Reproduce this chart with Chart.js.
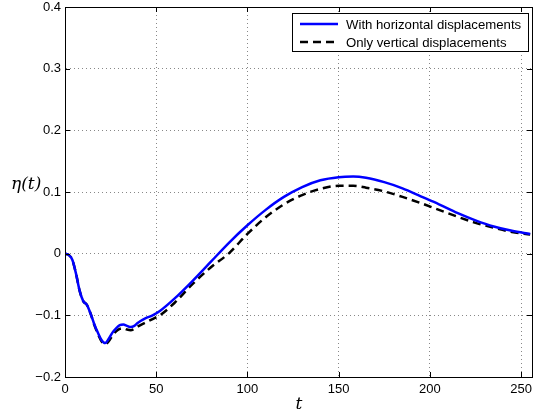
<!DOCTYPE html>
<html>
<head>
<meta charset="utf-8">
<script src="https://cdn.jsdelivr.net/npm/chart.js@4.4.1/dist/chart.umd.min.js"></script>
<style>
  body { margin: 0; background: #fff; }
  #box { width: 542px; height: 418px; }
</style>
</head>
<body>
<div id="box"><canvas id="myChart"></canvas></div>
<script>
'use strict';
let tValues = [0, 2, 4, 6, 8, 10, 12, 14, 16, 18, 20, 22, 24, 26, 28, 30, 32, 34, 36, 38, 40, 44, 48, 52, 60, 70, 80, 90, 100, 110, 120, 130, 140, 150, 158, 165, 175, 185, 195, 205, 215, 225, 235, 245, 255];
let withHorizontal = [0, -0.002, -0.010, -0.032, -0.060, -0.077, -0.083, -0.097, -0.114, -0.128, -0.140, -0.145, -0.138, -0.128, -0.121, -0.116, -0.115, -0.117, -0.119, -0.117, -0.112, -0.105, -0.100, -0.093, -0.073, -0.044, -0.013, 0.018, 0.046, 0.071, 0.092, 0.108, 0.119, 0.124, 0.125, 0.123, 0.116, 0.106, 0.093, 0.080, 0.066, 0.054, 0.044, 0.037, 0.032];
let onlyVertical = [0, -0.002, -0.010, -0.032, -0.060, -0.077, -0.083, -0.097, -0.115, -0.130, -0.142, -0.147, -0.142, -0.133, -0.126, -0.122, -0.121, -0.123, -0.124, -0.122, -0.118, -0.112, -0.106, -0.100, -0.080, -0.049, -0.022, 0.001, 0.032, 0.059, 0.080, 0.095, 0.105, 0.110, 0.110, 0.107, 0.101, 0.092, 0.082, 0.071, 0.060, 0.050, 0.042, 0.035, 0.031];
let seriesNames = ['With horizontal displacements', 'Only vertical displacements'];
let xTicks = [0, 50, 100, 150, 200, 250];
let yTicks = [-0.2, -0.1, 0, 0.1, 0.2, 0.3, 0.4];

function toPoints(xs, ys) {
    let pts = [];
    for (let i = 0; i < xs.length; i++) {
        pts.push({ x: xs[i], y: ys[i] });
    }
    return pts;
}

function fmt(v) {
    let r = Math.round(v * 10) / 10;
    if (r === 0) return '0';
    return r < 0 ? '\u2212' + Math.abs(r) : String(r);
}

// box, inner tick marks, legend and axis labels in MATLAB style
let matlabFrame = {
    id: 'matlabFrame',
    afterDraw(chart) {
        let ctx = chart.ctx;
        let a = chart.chartArea;
        let xs = chart.scales.x;
        let ys = chart.scales.y;
        ctx.save();
        ctx.strokeStyle = '#000';
        ctx.lineWidth = 1;
        ctx.setLineDash([]);
        ctx.beginPath();
        xTicks.forEach(function (v) {
            let px = Math.round(xs.getPixelForValue(v)) + 0.5;
            ctx.moveTo(px, a.bottom); ctx.lineTo(px, a.bottom - 5);
            ctx.moveTo(px, a.top); ctx.lineTo(px, a.top + 5);
        });
        yTicks.forEach(function (v) {
            let py = Math.round(ys.getPixelForValue(v)) + 0.5;
            ctx.moveTo(a.left, py); ctx.lineTo(a.left + 5, py);
            ctx.moveTo(a.right, py); ctx.lineTo(a.right - 5, py);
        });
        ctx.stroke();
        ctx.strokeRect(Math.round(a.left) + 0.5, Math.round(a.top) + 0.5, Math.round(a.right - a.left), Math.round(a.bottom - a.top));

        // legend
        let lx = 292, ly = 13, lw = 236, lh = 38;
        ctx.fillStyle = '#fff';
        ctx.fillRect(lx, ly, lw, lh);
        ctx.strokeRect(lx + 0.5, ly + 0.5, lw, lh);
        chart.data.datasets.forEach(function (ds, i) {
            let rowY = ly + 11 + i * 18;
            ctx.strokeStyle = ds.borderColor;
            ctx.lineWidth = ds.borderWidth;
            ctx.setLineDash(ds.borderDash || []);
            ctx.beginPath();
            ctx.moveTo(lx + 8, rowY);
            ctx.lineTo(lx + 46, rowY);
            ctx.stroke();
            ctx.setLineDash([]);
            ctx.fillStyle = '#000';
            ctx.font = '13.2px "Liberation Sans", Arial, sans-serif';
            ctx.textBaseline = 'middle';
            ctx.textAlign = 'left';
            ctx.fillText(ds.label, lx + 54, rowY + 1);
        });

        // axis labels
        ctx.fillStyle = '#000';
        ctx.font = 'italic 17px "DejaVu Serif", "Liberation Serif", serif';
        ctx.textBaseline = 'middle';
        ctx.textAlign = 'left';
        ctx.fillText('\u03b7(t)', 11, 185);
        ctx.textAlign = 'center';
        ctx.fillText('t', 299, 405);
        ctx.restore();
    }
};

let ctx = document.getElementById('myChart').getContext('2d');
let chart = new Chart(ctx, {
    type: 'line',
    data: {
        datasets: [{
            label: seriesNames[0],
            data: toPoints(tValues, withHorizontal),
            borderColor: '#0000ff',
            borderWidth: 2.5,
            pointRadius: 0,
            cubicInterpolationMode: 'monotone',
            fill: false
        }, {
            label: seriesNames[1],
            data: toPoints(tValues, onlyVertical),
            borderColor: '#000000',
            borderWidth: 2.5,
            borderDash: [8, 5],
            pointRadius: 0,
            cubicInterpolationMode: 'monotone',
            fill: false
        }]
    },
    options: {
        responsive: true,
        maintainAspectRatio: false,
        animation: false,
        layout: { padding: { left: 0, right: 10, top: 7, bottom: 0 } },
        plugins: {
            legend: { display: false },
            tooltip: { enabled: false }
        },
        scales: {
            x: {
                type: 'linear',
                min: 0,
                max: 256,
                afterBuildTicks: function (scale) {
                    scale.ticks = xTicks.map(function (v) { return { value: v }; });
                },
                afterFit: function (scale) { scale.height = 41; scale.paddingRight = 0; },
                ticks: {
                    padding: 5,
                    color: '#000',
                    maxRotation: 0,
                    font: { family: '"Liberation Sans", Arial, sans-serif', size: 13 },
                    callback: function (v) { return String(v); }
                },
                grid: {
                    color: '#888',
                    lineWidth: 1,
                    drawTicks: false
                },
                border: { display: true, color: '#000', width: 1, dash: [1, 3] }
            },
            y: {
                min: -0.2,
                max: 0.4,
                afterBuildTicks: function (scale) {
                    scale.ticks = yTicks.map(function (v) { return { value: v }; });
                },
                afterFit: function (scale) { scale.width = 65; scale.paddingTop = 0; scale.paddingBottom = 0; },
                ticks: {
                    padding: 4,
                    color: '#000',
                    font: { family: '"Liberation Sans", Arial, sans-serif', size: 13 },
                    callback: function (v) { return fmt(v); }
                },
                grid: {
                    color: '#888',
                    lineWidth: 1,
                    drawTicks: false
                },
                border: { display: true, color: '#000', width: 1, dash: [1, 3] }
            }
        }
    },
    plugins: [matlabFrame]
});
</script>
</body>
</html>
